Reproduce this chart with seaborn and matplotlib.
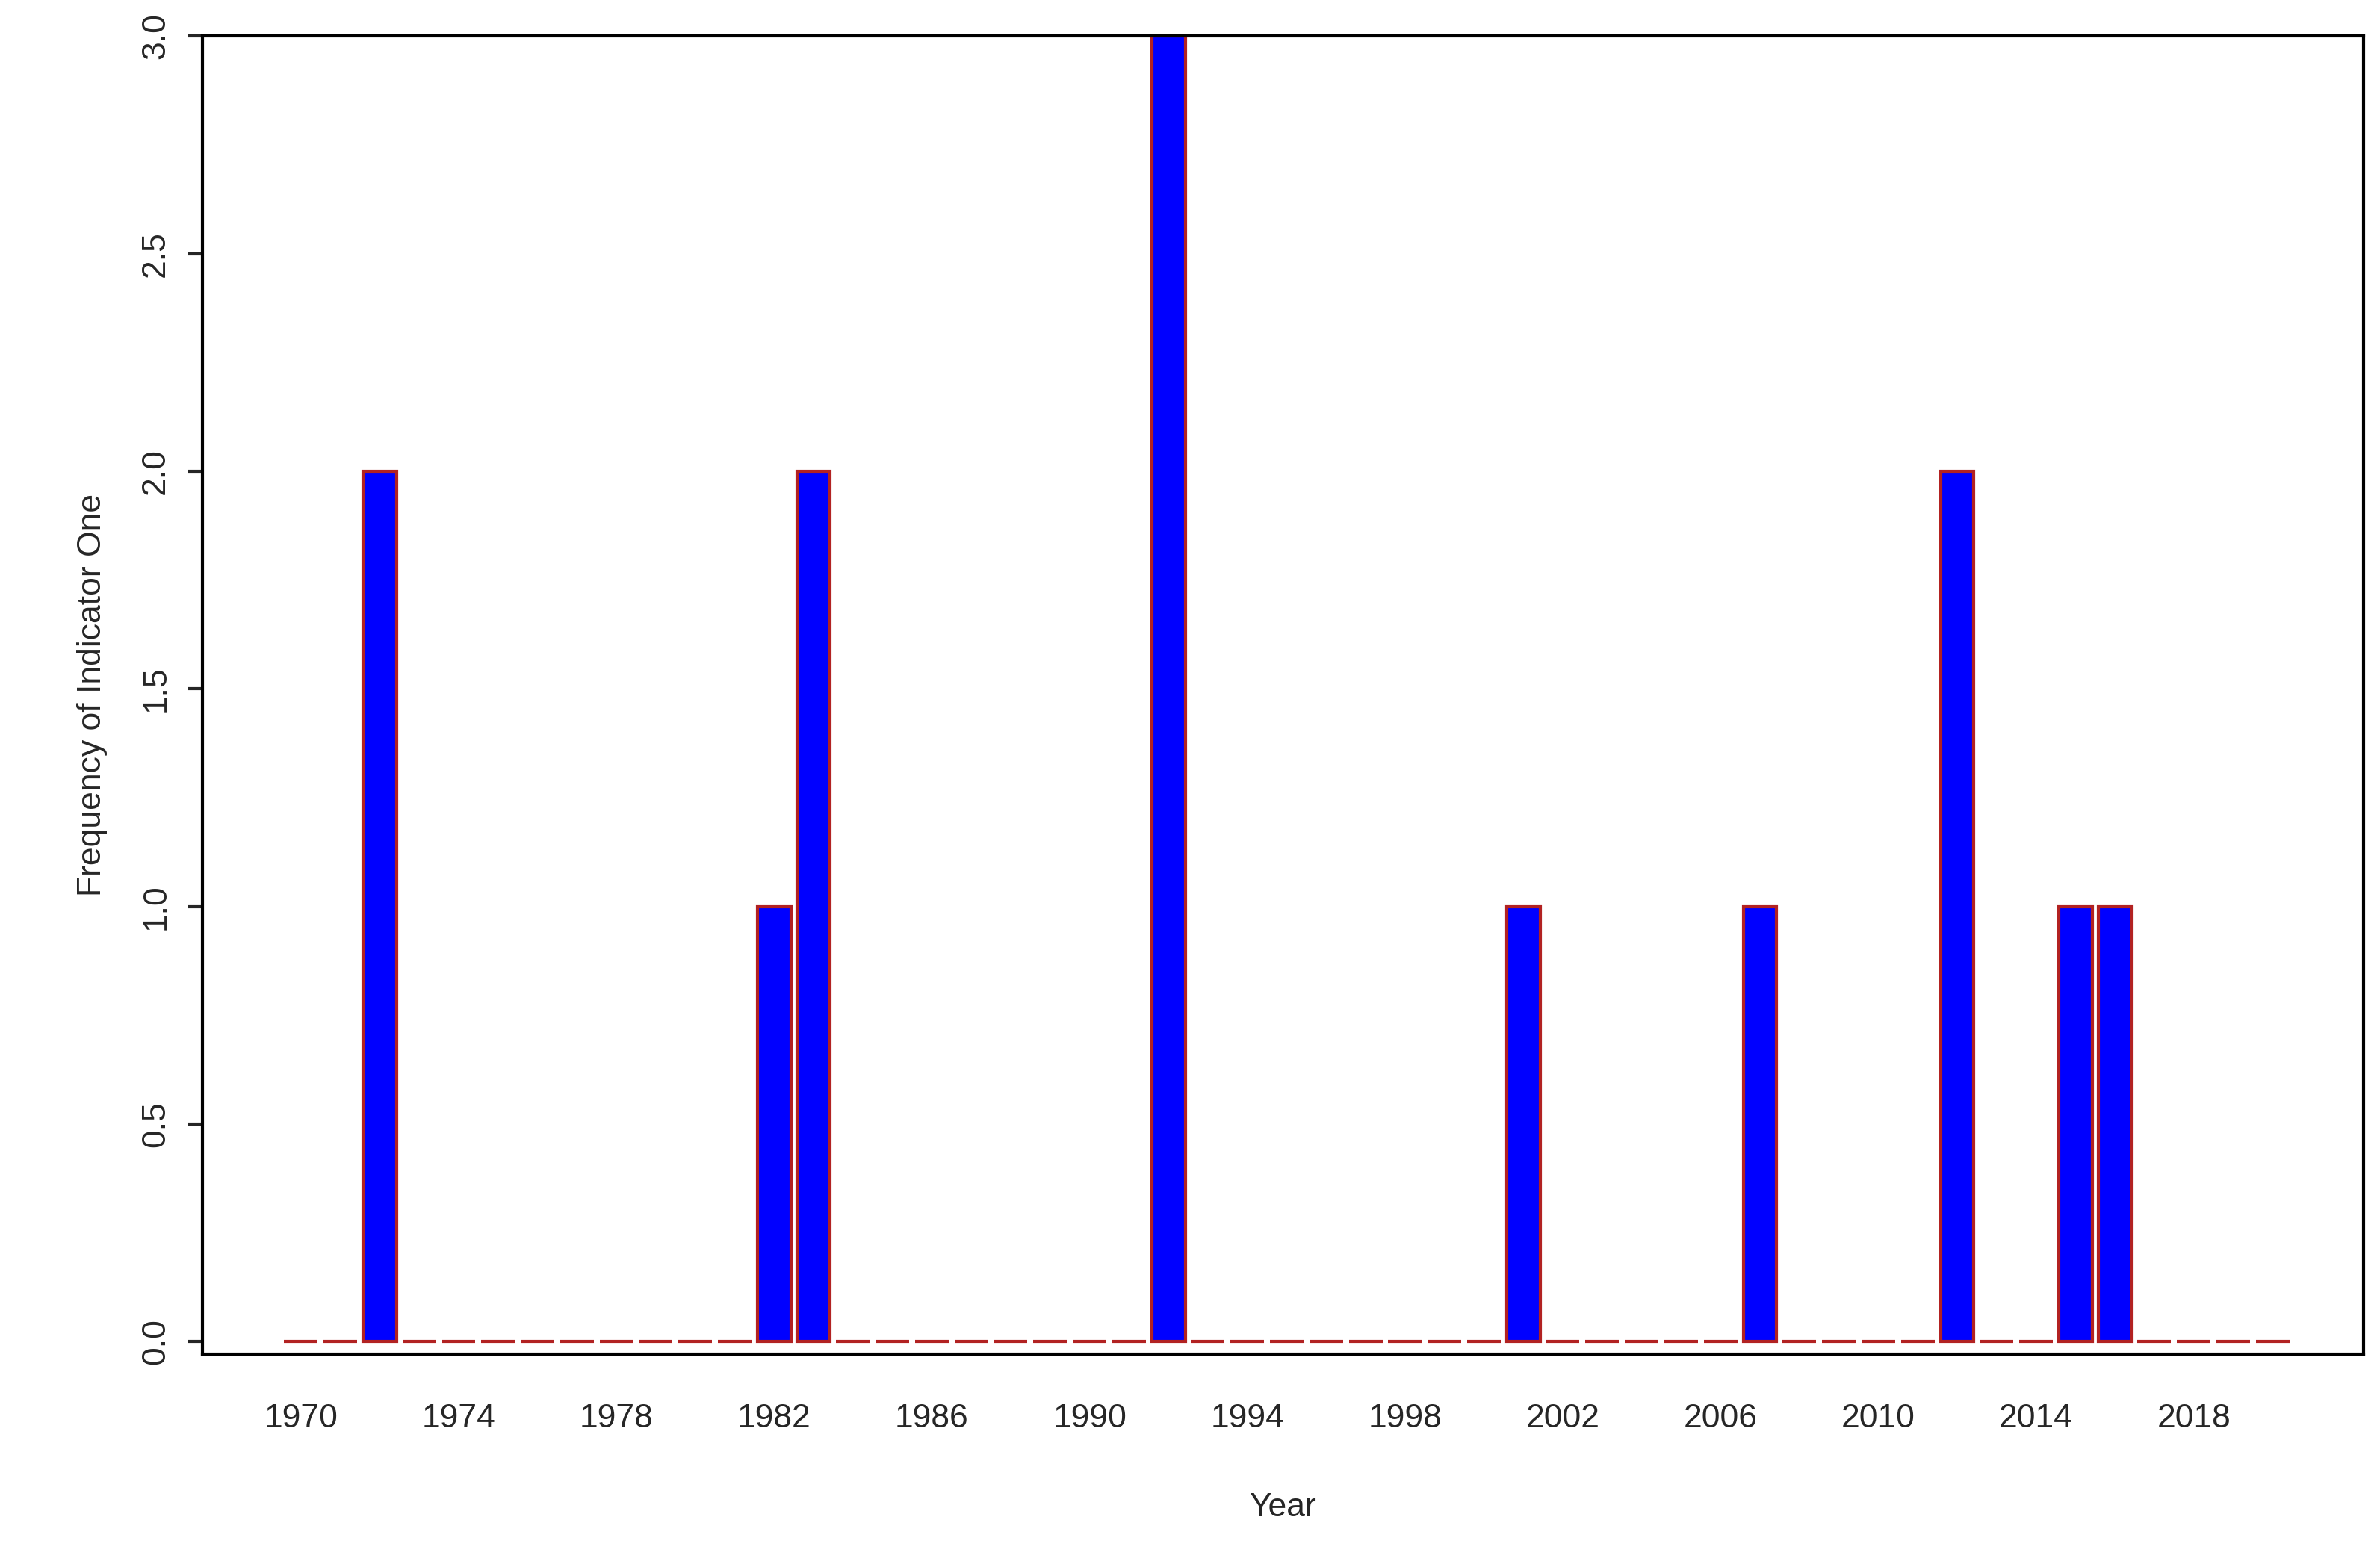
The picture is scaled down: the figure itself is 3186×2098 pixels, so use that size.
import numpy as np
import pandas as pd
import matplotlib
matplotlib.use("Agg")
import matplotlib.pyplot as plt
import seaborn as sns

years = list(range(1970, 2021))
hit_years = [1972, 1982, 1983, 1992, 2001, 2007, 2012, 2015, 2016]
hit_counts = [2, 1, 2, 3, 1, 1, 2, 1, 1]
tick_years = list(range(1970, 2019, 4))

freq = [0] * len(years)
for y, c in zip(hit_years, hit_counts):
    freq[years.index(y)] = c
df = pd.DataFrame({"Year": years, "Freq": freq})

sns.set_style("white")
plt.rcParams["font.family"] = ["Liberation Sans", "DejaVu Sans"]

fig = plt.figure(figsize=(15.93, 10.49), dpi=200)
ax = fig.add_axes([0.085, 0.136, 0.908, 0.841])
sns.barplot(data=df, x="Year", y="Freq", native_scale=True, color="blue",
            saturation=1, edgecolor="#B22222", linewidth=1.5, width=0.85, ax=ax)

ax.set_xlim(1967.5, 2022.3)
ax.set_ylim(-0.028, 3.0)
ax.set_xticks(tick_years)
ax.set_xticklabels([str(t) for t in tick_years], fontsize=16)
ax.set_yticks([0, 0.5, 1.0, 1.5, 2.0, 2.5, 3.0])
ax.set_yticklabels(["0.0", "0.5", "1.0", "1.5", "2.0", "2.5", "3.0"], fontsize=16,
                   rotation=90, va="center")
ax.tick_params(axis="x", length=0, pad=24)
ax.tick_params(axis="y", length=7, width=1.5, direction="out", left=True, pad=8)
ax.set_xlabel("Year", fontsize=16, labelpad=28)
ax.set_ylabel("Frequency of Indicator One", fontsize=16, labelpad=16)
for s in ax.spines.values():
    s.set_visible(True)
    s.set_color("black")
    s.set_linewidth(1.5)

fig.savefig("out.png", dpi=200)
